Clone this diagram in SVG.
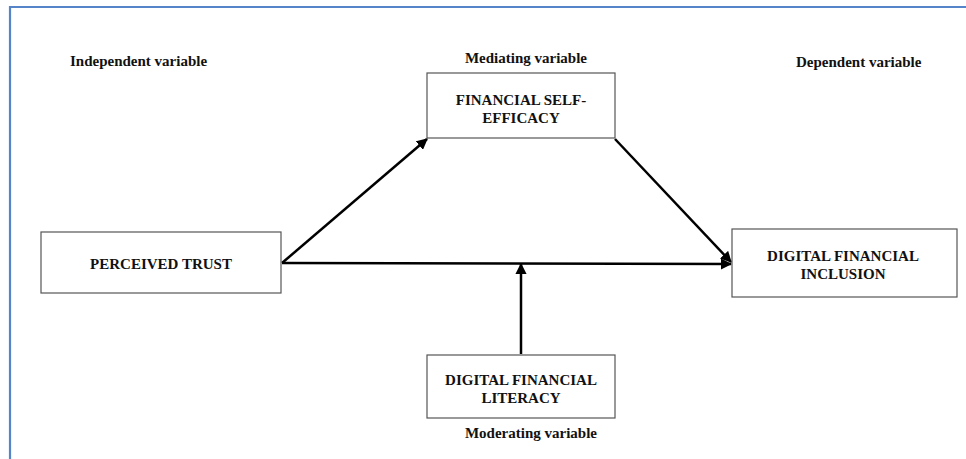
<svg xmlns="http://www.w3.org/2000/svg" width="966" height="459" viewBox="0 0 966 459">
<style>
.lbl{font-family:"Liberation Serif","Times New Roman",serif;font-weight:bold;font-size:15px;fill:#111}
.nt{font-family:"Liberation Serif","Times New Roman",serif;font-weight:bold;font-size:15px;fill:#111;text-anchor:middle}
.box{fill:#fff;stroke:#555;stroke-width:1.2}
.con{stroke:#000;stroke-width:2.5;fill:none;marker-end:url(#ah)}
</style>
<defs>
<marker id="ah" viewBox="0 0 10 10" refX="9" refY="5" markerWidth="4.5" markerHeight="4.5" orient="auto" markerUnits="strokeWidth">
<path d="M0,0 L10,5 L0,10 Z" fill="#000"/>
</marker>
</defs>
<rect width="966" height="459" fill="#fff"/>
<path d="M10,459 L10,7 L966,7" fill="none" stroke="#5585c8" stroke-width="2.2"/>
<text class="lbl" x="70" y="66">Independent variable</text>
<text class="lbl" x="526" y="63" text-anchor="middle">Mediating variable</text>
<text class="lbl" x="796" y="67">Dependent variable</text>
<text class="lbl" x="531" y="438" text-anchor="middle">Moderating variable</text>
<g id="connectors">
<path class="con" d="M282,263 L427,139"/>
<path class="con" d="M282,263 L731,264"/>
<path class="con" d="M615,139 L731,262"/>
<path class="con" d="M521,354 L521,264"/>
</g>
<g id="perceived-trust">
<rect class="box" x="41" y="232" width="240" height="61"/>
<text class="nt" x="161" y="269">PERCEIVED TRUST</text>
</g>
<g id="financial-self-efficacy">
<rect class="box" x="427" y="73" width="188" height="65"/>
<text class="nt" x="521" y="105">FINANCIAL SELF-</text>
<text class="nt" x="521" y="123">EFFICACY</text>
</g>
<g id="digital-financial-inclusion">
<rect class="box" x="732" y="229" width="225" height="68"/>
<text class="nt" x="843" y="261">DIGITAL FINANCIAL</text>
<text class="nt" x="843" y="279">INCLUSION</text>
</g>
<g id="digital-financial-literacy">
<rect class="box" x="427" y="355" width="188" height="63"/>
<text class="nt" x="521" y="385">DIGITAL FINANCIAL</text>
<text class="nt" x="521" y="403">LITERACY</text>
</g>
</svg>
